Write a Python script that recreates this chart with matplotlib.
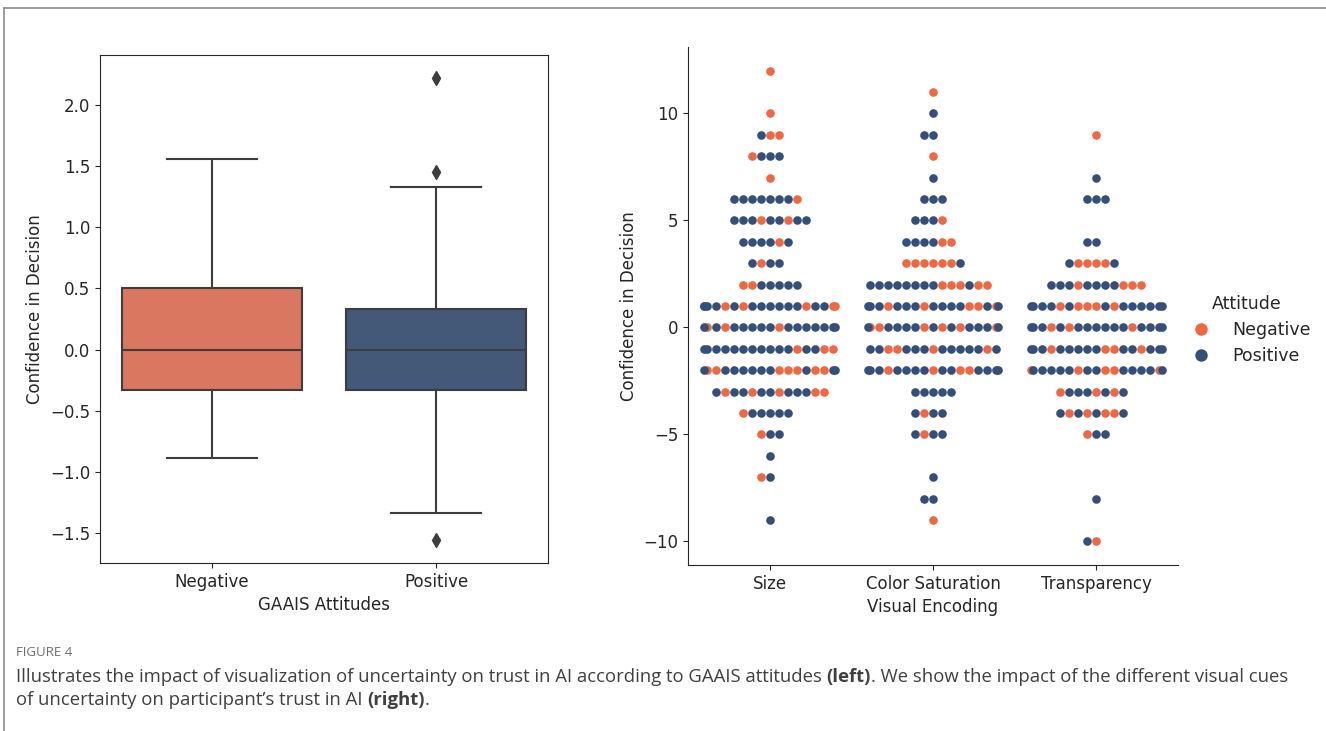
import matplotlib
matplotlib.use('Agg')
import matplotlib.pyplot as plt
from matplotlib.lines import Line2D

# ---- left panel: box summary by GAAIS attitude ----
attitudes = ['Negative', 'Positive']
q1 = [-0.33, -0.33]
medians = [0.0, 0.0]
q3 = [0.505, 0.333]
whislo = [-0.89, -1.333]
whishi = [1.556, 1.333]
fliers = [[], [2.22, 1.45, -1.556]]

# ---- right panel: swarm rows, value -> hue order left to right (N = Negative, P = Positive) ----
encodings = ['Size', 'Color Saturation', 'Transparency']
size_rows = {
    12: 'N', 10: 'N', 9: 'PNN', 8: 'NPPP', 7: 'N', 6: 'PPPPPPPN',
    5: 'PPPNPPNPP', 4: 'PPPPNP', 3: 'PNPP', 2: 'NNPPPPP',
    1: 'PPPPNPNPPPPPPNPPNN', 0: 'PNPNPPPPPNPPPPPPP', -1: 'PPPPPPPPPPPNPPNN',
    -2: 'PNNPPPPPPNNNPNNPP', -3: 'PNPPNPPNPPPNN', -4: 'NPPPPP', -5: 'NPP',
    -6: 'P', -7: 'NP', -9: 'P',
}
color_rows = {
    11: 'N', 10: 'P', 9: 'PP', 8: 'N', 7: 'P', 6: 'PPP', 5: 'PPPN',
    4: 'PPPPNN', 3: 'NNNNNNP', 2: 'PPPPPPPPNNNPNN',
    1: 'PPPNPPPNPPPPNNPNP', 0: 'PNNPPPPNPNPNPPPNP', -1: 'PPNNPPPNPPPPPNP',
    -2: 'PPPNPPPPNPPNNPPPP', -3: 'PPPPP', -4: 'PNPP', -5: 'PNPP',
    -7: 'P', -8: 'PP', -9: 'N',
}
transp_rows = {
    9: 'N', 7: 'P', 6: 'PPP', 4: 'PP', 3: 'PNNNNP', 2: 'PPPNPPPPNNN',
    1: 'PPPPNPNNNPNPPPPPP', 0: 'PPPNPNPPPPPPNPPPP', -1: 'PPPNPPPPPNNPPNPPP',
    -2: 'NPPPPPNPPNNPPPPNP', -3: 'NPPPNPNP', -4: 'PNPNPNNP', -5: 'NPP',
    -8: 'P', -10: 'PN',
}

box_colors = ['#DA7760', '#445878']
dot_colors = {'N': '#EF6842', 'P': '#34507A'}
hue_names = {'N': 'Negative', 'P': 'Positive'}
edge = '#3D3D3D'
ink = '#262626'

plt.rcParams['font.family'] = ['DejaVu Sans']
plt.rcParams['font.size'] = 12
plt.rcParams['text.color'] = ink
plt.rcParams['axes.labelcolor'] = ink
plt.rcParams['xtick.color'] = ink
plt.rcParams['ytick.color'] = ink
plt.rcParams['axes.edgecolor'] = ink

W, H = 1326, 731
fig = plt.figure(figsize=(W / 100, H / 100), dpi=100)

# outer frame of the figure panel
fig.add_artist(Line2D([4 / W, 4 / W], [0, 1 - 8 / H], color='#8C8C8C', lw=1.2, transform=fig.transFigure))
fig.add_artist(Line2D([4 / W, 1], [1 - 8 / H, 1 - 8 / H], color='#8C8C8C', lw=1.2, transform=fig.transFigure))

# left: boxplot
ax1 = fig.add_axes([100 / W, 1 - 563 / H, 448 / W, 508 / H])
stats = []
for i in range(len(attitudes)):
    stats.append(dict(med=medians[i], q1=q1[i], q3=q3[i], whislo=whislo[i],
                      whishi=whishi[i], fliers=fliers[i], label=attitudes[i]))
bp = ax1.bxp(stats, positions=range(len(attitudes)), widths=0.8, capwidths=0.4,
             patch_artist=True,
             boxprops=dict(edgecolor=edge, lw=1.5),
             medianprops=dict(color=edge, lw=1.5),
             whiskerprops=dict(color=edge, lw=1.5),
             capprops=dict(color=edge, lw=1.5),
             flierprops=dict(marker='d', mfc=edge, mec=edge, ms=7))
for patch, c in zip(bp['boxes'], box_colors):
    patch.set_facecolor(c)
ax1.set_xlim(-0.5, len(attitudes) - 0.5)
ax1.set_yticks([-1.5, -1.0, -0.5, 0.0, 0.5, 1.0, 1.5, 2.0])
ax1.set_xlabel('GAAIS Attitudes')
ax1.set_ylabel('Confidence in Decision')

# right: swarm
ax2 = fig.add_axes([688 / W, 1 - 565 / H, 490 / W, 518 / H])
ax2.set_xlim(-0.5, len(encodings) - 0.5)
unit_px = ax2.get_window_extent().width / len(encodings)
step = 9.0 / unit_px  # dots touch each other
pts = {'N': ([], []), 'P': ([], [])}
for i, rows in enumerate([size_rows, color_rows, transp_rows]):
    for val, seq in rows.items():
        n = len(seq)
        for j, h in enumerate(seq):
            off = min(0.4, max(-0.4, (j - n // 2) * step))
            pts[h][0].append(i + off)
            pts[h][1].append(val)
for h in ['N', 'P']:
    ax2.plot(pts[h][0], pts[h][1], 'o', ls='none', color=dot_colors[h], ms=6.2, mec='none')
ax2.set_xticks(range(len(encodings)))
ax2.set_xticklabels(encodings)
ax2.set_yticks([-10, -5, 0, 5, 10])
ax2.spines['top'].set_visible(False)
ax2.spines['right'].set_visible(False)
ax2.set_xlabel('Visual Encoding')
ax2.set_ylabel('Confidence in Decision')

handles = [Line2D([], [], marker='o', ls='none', color=dot_colors[h], mec='none', ms=9, label=hue_names[h])
           for h in ['N', 'P']]
fig.legend(handles=handles, title='Attitude', loc='center left', frameon=False,
           bbox_to_anchor=(1168 / W, 1 - 330 / H), fontsize=12.5, title_fontsize=12.5,
           handletextpad=0.8, labelspacing=0.45)

# caption
cap_font = 'Open Sans'
fig.text(16 / W, 1 - 652 / H, 'FIGURE 4', family=cap_font, fontsize=9.5, color='#6E6E6E', va='center')
renderer = fig.canvas.get_renderer()


def rich_line(x_px, y_px, parts):
    x = x_px
    for s, w in parts:
        t = fig.text(x / W, 1 - y_px / H, s, family=cap_font, fontsize=13.3, fontweight=w,
                     color='#404040', va='center')
        x += t.get_window_extent(renderer).width


rich_line(16, 677, [('Illustrates the impact of visualization of uncertainty on trust in AI according to GAAIS attitudes ', 'normal'),
                    ('(left)', 'bold'),
                    ('. We show the impact of the different visual cues', 'normal')])
rich_line(16, 700, [('of uncertainty on participant\u2019s trust in AI ', 'normal'),
                    ('(right)', 'bold'),
                    ('.', 'normal')])

fig.savefig('out.png', dpi=100)
